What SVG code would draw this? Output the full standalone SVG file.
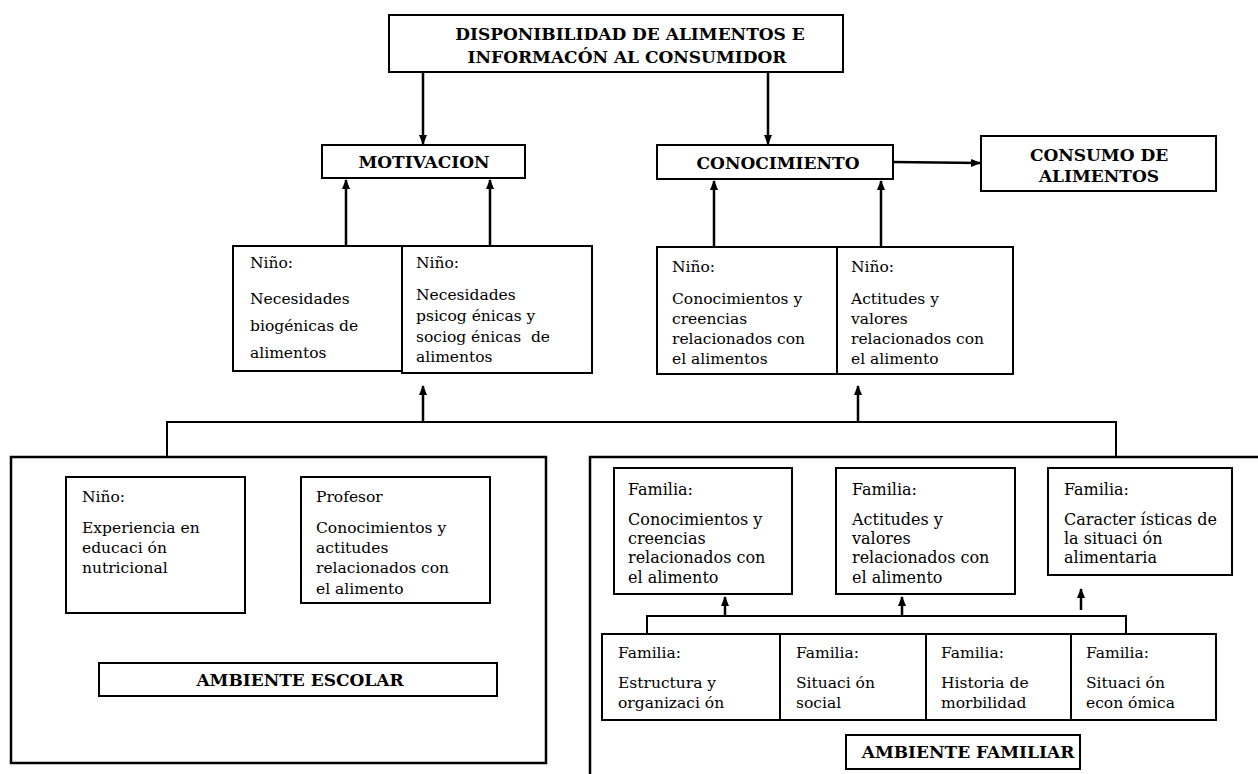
<svg xmlns="http://www.w3.org/2000/svg" width="1258" height="774" viewBox="0 0 1258 774">
<style>
.box{fill:#fff;stroke:#000;stroke-width:2}
.big{fill:none;stroke:#000;stroke-width:2.5}
.t{font-family:"DejaVu Serif","Liberation Serif",serif;font-size:15.5px;fill:#000}
.f{font-size:16px}
.b{font-family:"DejaVu Serif","Liberation Serif",serif;font-weight:bold;font-size:17px;text-anchor:middle;fill:#000}
.c{stroke:#000;stroke-width:2.5;fill:none}
.thin{stroke:#000;stroke-width:2;fill:none}
</style>
<defs>
<marker id="ah" markerWidth="10" markerHeight="10" refX="9" refY="5" orient="auto" markerUnits="userSpaceOnUse">
<path d="M0,1 L10,5 L0,9 z" fill="#000"/>
</marker>
</defs>
<rect width="1258" height="774" fill="#fff"/>

<g id="connectors">
<line class="c" x1="423" y1="72" x2="423" y2="144" marker-end="url(#ah)"/>
<line class="c" x1="768" y1="72" x2="768" y2="144" marker-end="url(#ah)"/>
<line class="c" x1="346" y1="246" x2="346" y2="180" marker-end="url(#ah)"/>
<line class="c" x1="490" y1="246" x2="490" y2="180" marker-end="url(#ah)"/>
<line class="c" x1="714" y1="247" x2="714" y2="181" marker-end="url(#ah)"/>
<line class="c" x1="881" y1="247" x2="881" y2="181" stroke-width="3.5" marker-end="url(#ah)"/>
<line class="c" x1="893" y1="162" x2="980" y2="163" marker-end="url(#ah)"/>
<line class="c" x1="423" y1="422" x2="423" y2="386" marker-end="url(#ah)"/>
<line class="c" x1="858" y1="422" x2="858" y2="386" marker-end="url(#ah)"/>
<polyline class="thin" points="167,457 167,422 1116,422 1116,457"/>
<line class="c" x1="725" y1="616" x2="725" y2="597" marker-end="url(#ah)"/>
<line class="c" x1="902" y1="616" x2="902" y2="597" marker-end="url(#ah)"/>
<line class="c" x1="1081" y1="610" x2="1081" y2="589" marker-end="url(#ah)"/>
<polyline class="thin" points="647,634 647,616 1126,616 1126,634"/>
</g>

<g id="title">
<rect class="box" x="389" y="15" width="454" height="57" stroke-width="2.5"/>
<text class="b" x="630" y="40" font-size="18">DISPONIBILIDAD DE ALIMENTOS E</text>
<text class="b" x="627" y="63" font-size="18">INFORMACÓN AL CONSUMIDOR</text>
</g>

<g id="motivacion">
<rect class="box" x="322" y="145" width="203" height="33"/>
<text class="b" x="424" y="168">MOTIVACION</text>
</g>

<g id="conocimiento">
<rect class="box" x="657" y="145" width="236" height="34"/>
<text class="b" x="778" y="169">CONOCIMIENTO</text>
</g>

<g id="consumo">
<rect class="box" x="981" y="136" width="235" height="55"/>
<text class="b" x="1099" y="161">CONSUMO DE</text>
<text class="b" x="1099" y="182">ALIMENTOS</text>
</g>

<g id="nino-biogenicas">
<rect class="box" x="233" y="246" width="169" height="125"/>
<text class="t" x="250" y="268">Niño:</text>
<text class="t" x="250" y="304">Necesidades</text>
<text class="t" x="250" y="331">biogénicas de</text>
<text class="t" x="250" y="358">alimentos</text>
</g>

<g id="nino-psicogenicas">
<rect class="box" x="402" y="246" width="190" height="127"/>
<text class="t" x="416" y="268">Niño:</text>
<text class="t" x="416" y="300">Necesidades</text>
<text class="t" x="416" y="321">psicog énicas y</text>
<text class="t" x="416" y="342" xml:space="preserve">sociog énicas  de</text>
<text class="t" x="416" y="362">alimentos</text>
</g>

<g id="nino-conocimientos">
<rect class="box" x="657" y="247" width="180" height="127"/>
<text class="t" x="672" y="272">Niño:</text>
<text class="t" x="672" y="304">Conocimientos y</text>
<text class="t" x="672" y="324">creencias</text>
<text class="t" x="672" y="344">relacionados con</text>
<text class="t" x="672" y="364">el alimentos</text>
</g>

<g id="nino-actitudes">
<rect class="box" x="837" y="247" width="176" height="127"/>
<text class="t" x="851" y="272">Niño:</text>
<text class="t" x="851" y="304">Actitudes y</text>
<text class="t" x="851" y="324">valores</text>
<text class="t" x="851" y="344">relacionados con</text>
<text class="t" x="851" y="364">el alimento</text>
</g>

<g id="ambiente-escolar-frame">
<rect class="big" x="11" y="457" width="535" height="306"/>
</g>

<g id="nino-experiencia">
<rect class="box" x="66" y="477" width="179" height="136"/>
<text class="t" x="82" y="502">Niño:</text>
<text class="t" x="82" y="533">Experiencia en</text>
<text class="t" x="82" y="553">educaci ón</text>
<text class="t" x="82" y="573">nutricional</text>
</g>

<g id="profesor">
<rect class="box" x="301" y="477" width="189" height="126"/>
<text class="t" x="316" y="502">Profesor</text>
<text class="t" x="316" y="533">Conocimientos y</text>
<text class="t" x="316" y="553">actitudes</text>
<text class="t" x="316" y="573">relacionados con</text>
<text class="t" x="316" y="594">el alimento</text>
</g>

<g id="ambiente-escolar">
<rect class="box" x="99" y="663" width="398" height="33"/>
<text class="b" x="300" y="686">AMBIENTE ESCOLAR</text>
</g>

<g id="ambiente-familiar-frame">
<path class="big" d="M590,774 V457 H1258"/>
</g>

<g id="familia-conocimientos">
<rect class="box" x="614" y="468" width="178" height="126"/>
<text class="t f" x="628" y="495">Familia:</text>
<text class="t f" x="628" y="525">Conocimientos y</text>
<text class="t f" x="628" y="544">creencias</text>
<text class="t f" x="628" y="563">relacionados con</text>
<text class="t f" x="628" y="583">el alimento</text>
</g>

<g id="familia-actitudes">
<rect class="box" x="836" y="468" width="179" height="126"/>
<text class="t f" x="852" y="495">Familia:</text>
<text class="t f" x="852" y="525">Actitudes y</text>
<text class="t f" x="852" y="544">valores</text>
<text class="t f" x="852" y="563">relacionados con</text>
<text class="t f" x="852" y="583">el alimento</text>
</g>

<g id="familia-caracteristicas">
<rect class="box" x="1048" y="468" width="184" height="107"/>
<text class="t f" x="1064" y="495">Familia:</text>
<text class="t f" x="1064" y="525">Caracter ísticas de</text>
<text class="t f" x="1064" y="544">la situaci ón</text>
<text class="t f" x="1064" y="563">alimentaria</text>
</g>

<g id="familia-estructura">
<rect class="box" x="602" y="634" width="178" height="86"/>
<text class="t" x="618" y="658">Familia:</text>
<text class="t" x="618" y="688">Estructura y</text>
<text class="t" x="618" y="708">organizaci ón</text>
</g>

<g id="familia-social">
<rect class="box" x="780" y="634" width="146" height="86"/>
<text class="t" x="796" y="658">Familia:</text>
<text class="t" x="796" y="688">Situaci ón</text>
<text class="t" x="796" y="708">social</text>
</g>

<g id="familia-morbilidad">
<rect class="box" x="926" y="634" width="145" height="86"/>
<text class="t" x="941" y="658">Familia:</text>
<text class="t" x="941" y="688">Historia de</text>
<text class="t" x="941" y="708">morbilidad</text>
</g>

<g id="familia-economica">
<rect class="box" x="1071" y="634" width="145" height="86"/>
<text class="t" x="1086" y="658">Familia:</text>
<text class="t" x="1086" y="688">Situaci ón</text>
<text class="t" x="1086" y="708">econ ómica</text>
</g>

<g id="ambiente-familiar">
<rect class="box" x="846" y="735" width="234" height="34"/>
<text class="b" x="968" y="758">AMBIENTE FAMILIAR</text>
</g>
</svg>
